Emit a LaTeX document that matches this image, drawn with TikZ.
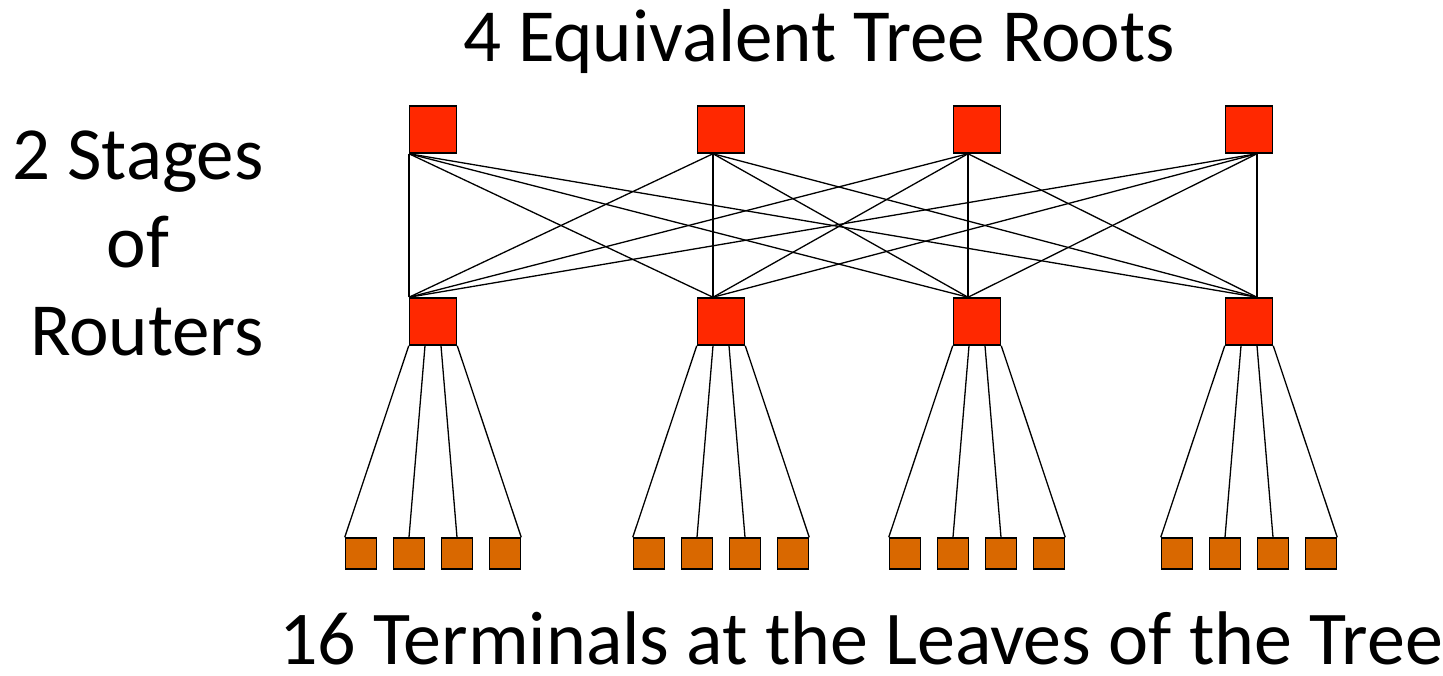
\documentclass[tikz,border=0pt]{standalone}
\usepackage{fontspec}
\setmainfont{Carlito}
\usetikzlibrary{positioning}
\definecolor{RouterRed} {HTML}{FF2800}
\definecolor{LeafOrange}{HTML}{D96800}
\tikzset{
  router/.style={draw=black,fill=RouterRed,line width=1.5pt,
                 minimum size=47pt,inner sep=0pt},
  terminal/.style={draw=black,fill=LeafOrange,line width=1.5pt,
                   minimum size=31pt,inner sep=0pt},
  link/.style={line width=1.3pt},
  heading/.style={font=\fontsize{75}{88}\selectfont,inner sep=0pt}
}

\begin{document}
\begin{tikzpicture}[x=1pt,y=-1pt]
  \useasboundingbox (0,0) rectangle (1443,676);

  % two stages of routers, with the point where the links meet each box
  \foreach \i/\x/\o in {1/433/-24,2/721/-8,3/977/-9,4/1249/8}{
    \node[router] (root\i) at (\x,129.5) {};
    \node[router] (mid\i) at (\x,321.5) {};
    \coordinate (rootp\i) at ([xshift=\o pt]root\i.south);
    \coordinate (midp\i) at ([xshift=\o pt]mid\i.north);
  }

  % every root to every second-stage router
  \foreach \i in {1,...,4}
    \foreach \j in {1,...,4}
      \draw[link] (rootp\i) -- (midp\j);

  % four terminals under each second-stage router
  \foreach \i/\x in {1/433,2/721,3/977,4/1249}{
    \foreach \k/\d in {1/-72,2/-24,3/24,4/72}
      \node[terminal] (leaf\i\k) at (\x+\d,553.5) {};
    \draw[link] (mid\i.south west) -- (leaf\i1.north west);
    \draw[link] ([xshift=-8pt]mid\i.south) -- (leaf\i2.north);
    \draw[link] ([xshift=8pt]mid\i.south) -- (leaf\i3.north);
    \draw[link] (mid\i.south east) -- (leaf\i4.north east);
  }

  \node[heading,anchor=base] (roottext) at (819,62) {4 Equivalent Tree Roots};
  \node[heading,align=center] (stagetext) at (138,243)
    {2 Stages\\of\\\hspace*{18pt}Routers};
  \node[heading,anchor=base,text depth=0pt,font=\fontsize{76}{88}\selectfont]
    (leaftext) at (861,664) {16 Terminals at the Leaves of the Tree};
\end{tikzpicture}
\end{document}
